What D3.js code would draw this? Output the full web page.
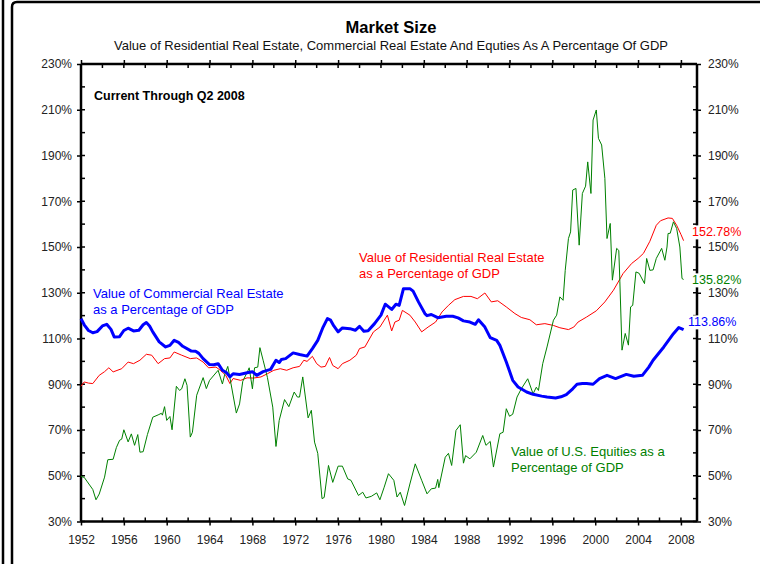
<!DOCTYPE html>
<meta charset="utf-8">
<style>

html, body {
  margin: 0;
  background: #fff;
  overflow: hidden;
}

svg {
  display: block;
}

text {
  font-family: "Liberation Sans", Arial, sans-serif;
}

.axis path, .axis line {
  stroke: #000;
}

.axis text {
  font-size: 12px;
  fill: #222;
}

.series {
  fill: none;
  stroke-linejoin: round;
}

</style>
<body>
<script src="https://d3js.org/d3.v7.min.js"></script>
<script>

// commercial real estate as % of GDP  [year, value]
var commercial = [
  [1952.0,118.7],[1952.3,116],[1952.7,113.5],[1953.1,112.5],[1953.5,113],[1954.0,115.5],[1954.4,116.2],
  [1954.8,114],[1955.1,110.7],[1955.6,110.8],[1956.0,113.5],[1956.4,114.5],[1956.9,113.3],[1957.4,113.6],
  [1957.8,116],[1958.1,117],[1958.4,115.5],[1958.7,112.9],[1959.3,108.5],[1959.9,106.3],[1960.3,107],
  [1960.7,109.2],[1961.1,108.3],[1961.5,106.6],[1962.3,104.5],[1962.7,104.4],[1963.0,103.5],[1963.4,101.2],
  [1964.0,98.6],[1964.4,98.5],[1964.8,99],[1965.2,96.1],[1965.6,95],[1965.9,93.2],[1966.2,94.6],
  [1966.8,94.3],[1967.5,95],[1968.0,95.5],[1968.4,93.9],[1969.0,95.5],[1969.7,96.5],[1970.2,100.5],
  [1970.5,99.5],[1970.7,100.8],[1971.1,101.2],[1971.8,103.7],[1972.4,103],[1973.1,102.3],[1973.6,105.6],
  [1974.1,109.2],[1974.6,115],[1975.0,118.7],[1975.3,118],[1975.6,115.5],[1976.0,112.9],[1976.4,114.6],
  [1977.1,114.3],[1977.6,113.6],[1978.0,115.3],[1978.4,113.2],[1978.8,113.4],[1979.4,116.5],[1980.0,120.2],
  [1980.4,125],[1981.0,122.7],[1981.4,125],[1981.7,124.5],[1982.1,131.8],[1982.7,131.8],[1983.0,130.7],
  [1983.5,126],[1984.1,120.9],[1984.3,120],[1984.7,120.5],[1985.3,119.1],[1986.1,119.7],[1986.7,119.7],
  [1987.2,119],[1987.7,117.7],[1988.3,117.2],[1988.8,116.2],[1989.1,118.2],[1989.7,115],[1990.2,110.4],
  [1990.8,109.2],[1991.1,107],[1991.7,99.7],[1992.3,91.7],[1992.8,88.8],[1993.6,86.6],[1994.2,85.6],
  [1995.0,84.8],[1995.5,84.4],[1996.3,84],[1996.8,84.5],[1997.3,85.5],[1997.9,88],[1998.3,90],
  [1998.8,90.3],[1999.2,90.3],[1999.8,90],[2000.4,92.5],[2001.1,93.9],[2001.9,92.5],[2002.9,94.3],
  [2003.6,93.5],[2004.4,93.9],[2005.0,97.5],[2005.4,100.5],[2006.4,106.3],[2007.3,112.1],[2007.8,114.8],
  [2008.25,113.86]
];

// residential real estate as % of GDP
var residential = [
  [1952.0,89.1],[1952.3,91],[1952.7,90.5],[1953.1,90.3],[1953.7,93.9],[1954.2,95.5],[1954.6,97.2],
  [1955.0,95.4],[1955.8,96.8],[1956.4,99.7],[1956.9,99],[1957.5,100.5],[1958.1,103.1],[1958.6,102.7],
  [1959.2,99],[1959.8,101.2],[1960.3,101.5],[1960.7,104.1],[1961.4,102.7],[1962.2,101.2],[1962.8,101.5],
  [1963.4,99.7],[1963.9,97.2],[1964.6,97.5],[1965.0,96.1],[1965.5,94],[1965.9,90.3],[1966.2,92.5],
  [1966.9,91.7],[1967.5,92.8],[1968.1,92.7],[1968.8,93.2],[1969.4,94.6],[1970.0,96.1],[1970.6,96.8],
  [1971.2,96.1],[1971.8,97.2],[1972.4,97.8],[1972.8,100.5],[1973.1,100],[1973.6,102.2],[1974.0,99],
  [1974.4,97.5],[1974.8,97.8],[1975.2,101.7],[1975.5,98.2],[1976.0,96.8],[1976.4,99],[1977.1,100.5],
  [1977.7,102.7],[1978.0,105.6],[1978.5,106.3],[1979.3,112.9],[1979.9,115],[1980.6,120.2],[1981.0,113.3],
  [1981.3,117.2],[1981.7,118],[1982.0,122.3],[1982.7,120.2],[1983.2,117.2],[1983.8,112.9],[1984.4,115],
  [1985.1,117.2],[1985.7,121.6],[1986.3,124.5],[1986.9,127],[1987.7,128.4],[1988.4,128.4],[1989.0,127.4],
  [1989.7,129.9],[1990.3,126],[1990.9,126.5],[1991.7,123.8],[1992.5,120.9],[1993.1,119.2],[1993.9,118.2],
  [1994.5,116],[1995.3,116.5],[1996.1,115.7],[1996.7,114.7],[1997.5,113.9],[1998.0,115],[1998.4,117.2],
  [1999.2,119.4],[2000.1,122.1],[2000.9,126],[2001.7,131.1],[2002.6,138.4],[2003.4,142.8],[2004.0,145],
  [2004.5,147.2],[2005.1,152.5],[2005.7,159.5],[2006.1,161.5],[2006.8,162.7],[2007.2,162.5],[2007.6,159.5],
  [2008.0,155.5],[2008.25,152.78]
];

// U.S. equities as % of GDP
var equities = [
  [1952.0,49.7],[1952.3,49.3],[1952.6,47.3],[1953.1,44],[1953.4,39.5],[1953.7,42],[1954.2,49.4],
  [1954.5,57],[1955.0,57.2],[1955.3,62.3],[1955.6,65.5],[1955.8,66],[1956.0,70.1],[1956.4,64.8],
  [1956.7,68.3],[1957.0,63.3],[1957.3,68],[1957.5,60.3],[1957.8,60.5],[1958.2,68],[1958.7,75.6],
  [1959.2,76.6],[1959.5,77.3],[1959.6,76.5],[1959.8,80.2],[1960.0,74.2],[1960.3,75.9],[1960.5,70.1],
  [1960.9,89.1],[1961.2,87.3],[1961.4,88],[1961.7,92.4],[1961.9,89.5],[1962.2,66.9],[1962.4,69],
  [1962.8,85.2],[1963.4,92.9],[1963.7,88.1],[1964.0,91.7],[1964.8,96.1],[1965.2,90.1],[1965.4,94],
  [1965.7,97.8],[1966.0,90.3],[1966.5,77.4],[1966.8,81.4],[1967.1,91.3],[1967.6,96.1],[1967.7,97.2],
  [1968.0,88],[1968.2,97.2],[1968.5,97.5],[1968.7,106],[1969.0,100.5],[1969.4,93],[1969.9,80],
  [1970.2,62.8],[1970.5,74.2],[1971.0,83.3],[1971.4,80.2],[1971.9,86.6],[1972.2,84.4],[1972.4,84.4],
  [1972.7,93.2],[1973.2,75.3],[1973.5,78.6],[1973.8,64.7],[1974.1,59.8],[1974.5,40],[1974.7,40.5],
  [1975.1,54.5],[1975.5,47.1],[1976.0,54.2],[1976.4,54.2],[1976.9,48.6],[1977.2,48],[1977.9,41.4],
  [1978.3,42.8],[1978.6,40.3],[1979.1,41],[1979.6,42.5],[1979.9,39.5],[1980.3,45],[1980.7,50.9],
  [1981.2,48],[1981.5,40.7],[1981.8,42.8],[1982.2,37],[1982.7,46.4],[1983.2,55.2],[1983.8,48],
  [1984.3,42.1],[1984.7,44.3],[1985.1,44.6],[1985.3,48.4],[1985.4,44.8],[1986.0,58.1],[1986.3,59.8],
  [1986.6,54.5],[1987.0,69.8],[1987.4,72.3],[1987.7,55.5],[1987.9,58.8],[1988.3,57.4],[1988.9,60.3],
  [1989.5,67.6],[1989.8,63.3],[1990.2,65],[1990.5,53.8],[1991.1,68.4],[1991.4,69],[1991.7,79.3],
  [1992.0,76],[1992.3,76.9],[1992.7,84.4],[1993.1,88],[1993.7,92.4],[1994.2,85.8],[1994.5,88.7],
  [1994.7,87.3],[1995.1,99],[1995.5,106.3],[1996.1,118],[1996.4,120.2],[1996.7,128.2],[1997.0,126.7],
  [1997.2,139.8],[1997.5,153.7],[1997.7,156.6],[1997.9,174.9],[1998.2,175.6],[1998.5,150.8],[1998.8,173.4],
  [1999.1,176.6],[1999.3,187.2],[1999.6,173.4],[1999.8,205.5],[2000.1,209.9],[2000.3,197.5],[2000.6,194.6],
  [2000.9,180],[2001.1,153.7],[2001.4,160.3],[2001.6,135.5],[2002.0,149.4],[2002.2,148.5],[2002.3,134.8],
  [2002.5,104.9],[2002.8,112.2],[2003.1,107.1],[2003.3,123.8],[2003.5,124.5],[2003.8,139.1],[2004.1,138.5],
  [2004.6,134],[2004.8,145],[2005.1,139.8],[2005.4,140],[2005.7,145],[2006.2,149.4],[2006.5,144.2],
  [2006.7,150],[2006.8,155.9],[2007.0,156],[2007.3,161],[2007.6,158.1],[2007.9,150],[2008.1,136.2],
  [2008.25,135.82]
];

var yearTicks = d3.range(1952, 2009, 4);
var yearMinor = d3.range(1954, 2009, 4);
var pctTicks = d3.range(30, 231, 20);
var pctMinor = d3.range(40, 230, 20);

var width = 760,
    height = 564;

var x = d3.scaleLinear().domain([1952, 2009.5]).range([81, 697]),
    y = d3.scaleLinear().domain([30, 230]).range([521.5, 64]);

var svg = d3.select("body").append("svg")
    .attr("width", width)
    .attr("height", height);

// outer frame: two lines on the left, one along the top
svg.append("path")
    .attr("d", "M3,0V" + height + "M12," + height + "V7Q12,2 17,2H" + width)
    .attr("fill", "none").attr("stroke", "#000").attr("stroke-width", 2.5);

// titles
svg.append("text")
    .attr("x", 391).attr("y", 33)
    .attr("text-anchor", "middle")
    .style("font-size", "16.5px").style("font-weight", "bold")
    .text("Market Size");

svg.append("text")
    .attr("x", 391).attr("y", 49.5)
    .attr("text-anchor", "middle")
    .style("font-size", "13px").style("fill", "#111")
    .text("Value of Residential Real Estate, Commercial Real Estate And Equties As A Percentage Of GDP");

// axes
svg.append("g").attr("class", "axis")
    .attr("transform", "translate(0," + y(30) + ")")
    .call(d3.axisBottom(x).tickValues(yearTicks).tickSize(4).tickPadding(10).tickFormat(d3.format("d")))
    .call(function(g) { g.select(".domain").attr("stroke-width", 2.5).attr("d", "M" + x.range()[0] + ",0H" + x.range()[1]); })
    .selectAll("line").attr("stroke-width", 1.5);

svg.append("g").attr("class", "axis")
    .attr("transform", "translate(0," + y(230) + ")")
    .call(d3.axisTop(x).tickValues(yearTicks).tickSize(4).tickFormat(""))
    .call(function(g) { g.select(".domain").attr("stroke-width", 2.5).attr("d", "M" + x.range()[0] + ",0H" + x.range()[1]); })
    .selectAll("line").attr("stroke-width", 1.5);

svg.append("g").attr("class", "axis")
    .attr("transform", "translate(" + x(1952) + ",0)")
    .call(d3.axisLeft(y).tickValues(pctTicks).tickSize(4).tickPadding(5).tickFormat(function(d) { return d + "%"; }))
    .call(function(g) { g.select(".domain").attr("stroke-width", 2.5).attr("d", "M0," + y.range()[1] + "V" + y.range()[0]); })
    .selectAll("line").attr("stroke-width", 1.5);

svg.append("g").attr("class", "axis")
    .attr("transform", "translate(" + x(2009.5) + ",0)")
    .call(d3.axisRight(y).tickValues(pctTicks).tickSize(4).tickPadding(7).tickFormat(function(d) { return d + "%"; }))
    .call(function(g) { g.select(".domain").attr("stroke-width", 2.5).attr("d", "M0," + y.range()[1] + "V" + y.range()[0]); })
    .selectAll("line").attr("stroke-width", 1.5);

// inner tick marks (majors cross the axis, minors point inward)
var inner = svg.append("g").attr("stroke", "#000").attr("stroke-width", 1.5);

inner.selectAll(".xb").data(yearTicks.concat(yearMinor)).enter().append("line")
    .attr("x1", x).attr("x2", x)
    .attr("y1", y(30)).attr("y2", function(d) { return y(30) - 4; });
inner.selectAll(".xt").data(yearTicks.concat(yearMinor)).enter().append("line")
    .attr("x1", x).attr("x2", x)
    .attr("y1", y(230)).attr("y2", function(d) { return y(230) + 4; });
inner.selectAll(".yl").data(pctTicks.concat(pctMinor)).enter().append("line")
    .attr("y1", y).attr("y2", y)
    .attr("x1", x(1952)).attr("x2", x(1952) + 4);
inner.selectAll(".yr").data(pctTicks.concat(pctMinor)).enter().append("line")
    .attr("y1", y).attr("y2", y)
    .attr("x1", x(2009.5)).attr("x2", x(2009.5) - 4);

// series
var line = d3.line()
    .x(function(d) { return x(d[0]); })
    .y(function(d) { return y(d[1]); });

svg.append("path").datum(residential).attr("class", "series")
    .attr("stroke", "#ff0000").attr("stroke-width", 1).attr("d", line);
svg.append("path").datum(equities).attr("class", "series")
    .attr("stroke", "#008000").attr("stroke-width", 1).attr("d", line);
svg.append("path").datum(commercial).attr("class", "series")
    .attr("stroke", "#0000ff").attr("stroke-width", 3).attr("d", line);

// annotations
svg.append("text")
    .attr("x", 94).attr("y", 99.5)
    .style("font-size", "12.5px").style("font-weight", "bold")
    .text("Current Through Q2 2008");

var notes = [
  {lines: ["Value of Commercial Real Estate", "as a Percentage of GDP"], x: 93, y: 298, color: "#0000ff"},
  {lines: ["Value of Residential Real Estate", "as a Percentage of GDP"], x: 359, y: 262, color: "#ff0000"},
  {lines: ["Value of U.S. Equities as a", "Percentage of GDP"], x: 511, y: 456, color: "#008000"}
];

notes.forEach(function(n) {
  var t = svg.append("text")
      .attr("x", n.x).attr("y", n.y)
      .style("font-size", "13px").style("fill", n.color);
  n.lines.forEach(function(s, i) {
    t.append("tspan").attr("x", n.x).attr("dy", i ? 16 : 0).text(s);
  });
});

// end-of-series value labels
var ends = [
  {v: residential[residential.length - 1][1], ty: 232, tx: 692, color: "#ff0000"},
  {v: equities[equities.length - 1][1], ty: 280, tx: 692, color: "#008000"},
  {v: commercial[commercial.length - 1][1], ty: 322, tx: 688, color: "#0000ff"}
];

ends.forEach(function(e) {
  var g = svg.append("g");
  var t = g.append("text")
      .attr("x", e.tx).attr("y", e.ty).attr("dy", "0.35em")
      .style("font-size", "12.5px").style("fill", e.color)
      .text(e.v.toFixed(2) + "%");
  var b = t.node().getBBox();
  g.insert("rect", "text")
      .attr("x", b.x - 1).attr("y", b.y).attr("width", b.width + 2).attr("height", b.height)
      .attr("fill", "#fff");
});

</script>
